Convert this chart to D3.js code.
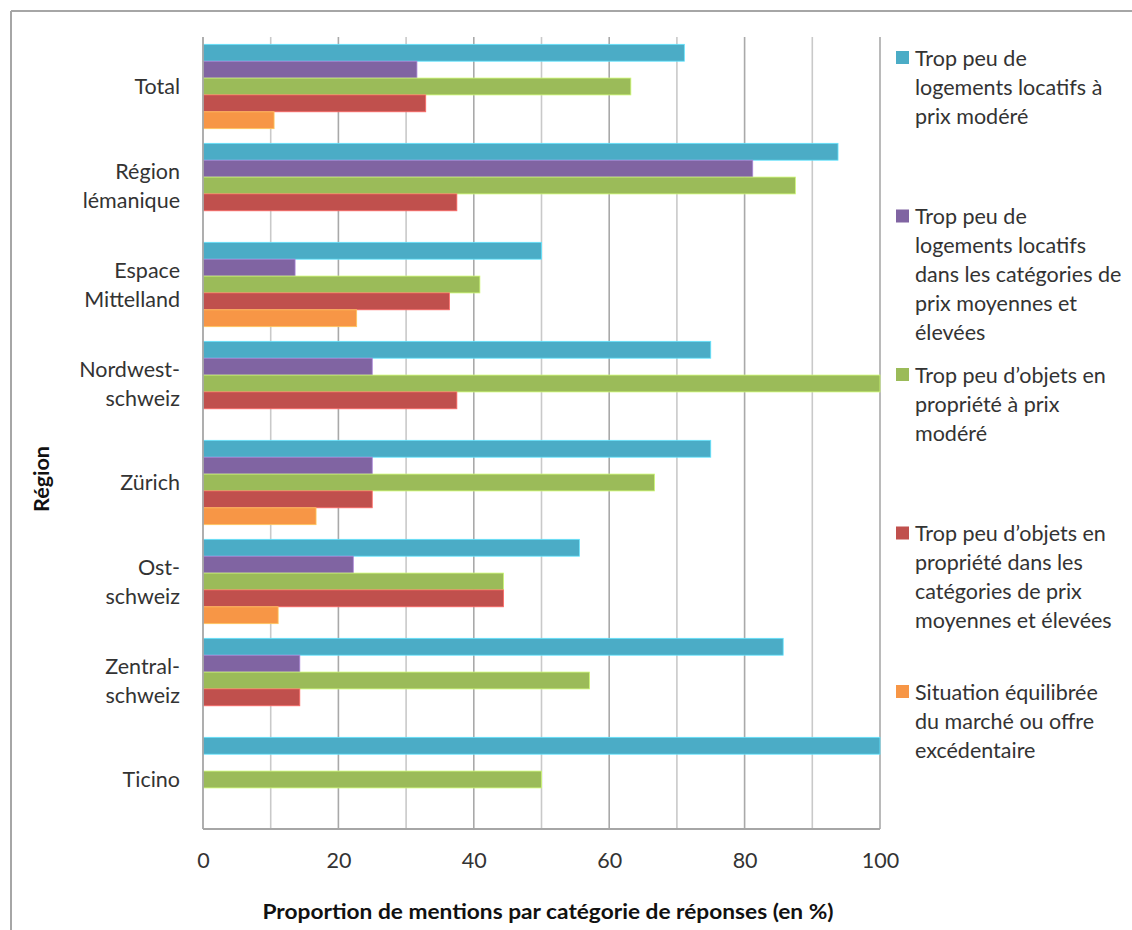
<!DOCTYPE html>
<html>
<head>
<meta charset="utf-8">
<script src="https://cdn.jsdelivr.net/npm/d3@7"></script>
<style>
  html, body { margin: 0; padding: 0; background: #fff; }
  svg { display: block; font-family: Lato, "Open Sans", sans-serif; }
</style>
</head>
<body>
<svg id="chart" width="1132" height="930"></svg>
<script>
// Regions (each label may wrap over several lines)
const regions = [
  ["Total"],
  ["Région", "lémanique"],
  ["Espace", "Mittelland"],
  ["Nordwest-", "schweiz"],
  ["Zürich"],
  ["Ost-", "schweiz"],
  ["Zentral-", "schweiz"],
  ["Ticino"]
];

// Response categories, as shown in the legend
const seriesNames = [
  ["Trop peu de", "logements locatifs à", "prix modéré"],
  ["Trop peu de", "logements locatifs", "dans les catégories de", "prix moyennes et", "élevées"],
  ["Trop peu d’objets en", "propriété à prix", "modéré"],
  ["Trop peu d’objets en", "propriété dans les", "catégories de prix", "moyennes et élevées"],
  ["Situation équilibrée", "du marché ou offre", "excédentaire"]
];
const seriesColors = ["#4BACC6", "#8064A2", "#9BBB59", "#C0504D", "#F79646"];

// Share of mentions (%) per region, one array per response category
const rentModerate   = [71.1, 93.8, 50.0, 75.0, 75.0, 55.6, 85.7, 100.0];
const rentMidHigh    = [31.6, 81.2, 13.6, 25.0, 25.0, 22.2, 14.3, 0];
const ownModerate    = [63.2, 87.5, 40.9, 100.0, 66.7, 44.4, 57.1, 50.0];
const ownMidHigh     = [32.9, 37.5, 36.4, 37.5, 25.0, 44.4, 14.3, 0];
const balancedMarket = [10.5, 0, 22.7, 0, 16.7, 11.1, 0, 0];
const seriesValues = [rentModerate, rentMidHigh, ownModerate, ownMidHigh, balancedMarket];

const xTickValues = [0, 20, 40, 60, 80, 100];
const xTitle = "Proportion de mentions par catégorie de réponses (en %)";
const yTitle = "Région";

const svg = d3.select("#chart");

// Chart frame
svg.append("line").attr("x1", 11).attr("y1", 11).attr("x2", 1132).attr("y2", 11)
  .attr("stroke", "#a6a6a6").attr("stroke-width", 2);
svg.append("line").attr("x1", 11).attr("y1", 11).attr("x2", 11).attr("y2", 930)
  .attr("stroke", "#a6a6a6").attr("stroke-width", 2);

const plot = { left: 203, right: 880, top: 37, bottom: 829 };

const x = d3.scaleLinear().domain([0, 100]).range([plot.left, plot.right]);
const y0 = d3.scaleBand()
  .domain(d3.range(regions.length))
  .range([plot.top, plot.bottom])
  .paddingInner(0.148)
  .paddingOuter(0.074);
const y1 = d3.scaleBand()
  .domain(d3.range(seriesValues.length))
  .range([0, y0.bandwidth()]);

// Vertical gridlines: every 10 (minor) and every 20 (major)
const gridG = svg.append("g");
gridG.selectAll("line")
  .data(d3.range(10, 101, 10))
  .join("line")
  .attr("x1", d => x(d)).attr("x2", d => x(d))
  .attr("y1", plot.top).attr("y2", plot.bottom)
  .attr("stroke", d => d % 20 === 0 ? "#a9a9a9" : "#c9c9c9")
  .attr("stroke-width", 1.6);

// Bars
const groups = svg.append("g").selectAll("g")
  .data(regions.map((r, i) => i))
  .join("g")
  .attr("transform", i => `translate(0,${y0(i)})`);

groups.selectAll("rect")
  .data(i => seriesValues.map((vals, s) => ({ s, v: vals[i] })).filter(d => d.v > 0))
  .join("rect")
  .attr("x", x(0))
  .attr("y", d => y1(d.s))
  .attr("width", d => x(d.v) - x(0))
  .attr("height", y1.bandwidth())
  .attr("fill", d => seriesColors[d.s])
  .attr("stroke", d => d3.color(seriesColors[d.s]).brighter(0.8))
  .attr("stroke-width", 0.8);

// Axes lines
svg.append("line").attr("x1", plot.left).attr("x2", plot.left)
  .attr("y1", plot.top).attr("y2", plot.bottom)
  .attr("stroke", "#a6a6a6").attr("stroke-width", 1.8);
svg.append("line").attr("x1", plot.left).attr("x2", plot.right)
  .attr("y1", plot.bottom).attr("y2", plot.bottom)
  .attr("stroke", "#a6a6a6").attr("stroke-width", 1.8);

// X axis tick labels
const xAxis = d3.axisBottom(x).tickValues(xTickValues).tickSize(0).tickPadding(24);
const xg = svg.append("g").attr("transform", `translate(0,${plot.bottom})`).call(xAxis);
xg.select(".domain").remove();
xg.selectAll("text")
  .attr("font-family", "Lato, sans-serif")
  .attr("font-size", 21.5)
  .attr("fill", "#333");

// Region labels
const lineH = 29;
const catG = svg.append("g");
regions.forEach((lines, i) => {
  const cy = y0(i) + y0.bandwidth() / 2;
  const t = catG.append("text")
    .attr("text-anchor", "end")
    .attr("font-size", 21.5)
    .attr("fill", "#333");
  lines.forEach((ln, k) => {
    t.append("tspan")
      .attr("x", 180)
      .attr("y", cy + (k - (lines.length - 1) / 2) * lineH)
      .attr("dy", "0.35em")
      .text(ln);
  });
});

// Axis titles
svg.append("text")
  .attr("x", 548)
  .attr("y", 912)
  .attr("dy", "0.35em")
  .attr("text-anchor", "middle")
  .attr("font-size", 20)
  .attr("font-weight", "bold")
  .attr("fill", "#111")
  .attr("textLength", 571)
  .attr("lengthAdjust", "spacingAndGlyphs")
  .text(xTitle);

svg.append("text")
  .attr("transform", "translate(42,479) rotate(-90)")
  .attr("dy", "0.35em")
  .attr("text-anchor", "middle")
  .attr("font-size", 20)
  .attr("font-weight", "bold")
  .attr("fill", "#111")
  .attr("textLength", 66)
  .attr("lengthAdjust", "spacingAndGlyphs")
  .text(yTitle);

// Legend
const legendY = d3.scalePoint().domain(d3.range(seriesNames.length)).range([58, 692]);
const legend = svg.append("g");
seriesNames.forEach((lines, s) => {
  const yy = legendY(s);
  legend.append("rect")
    .attr("x", 896).attr("y", yy - 7)
    .attr("width", 13).attr("height", 13)
    .attr("fill", seriesColors[s]);
  const t = legend.append("text")
    .attr("font-size", 21.5)
    .attr("fill", "#333");
  lines.forEach((ln, k) => {
    t.append("tspan")
      .attr("x", 915)
      .attr("y", yy + k * lineH)
      .attr("dy", "0.35em")
      .text(ln);
  });
});
</script>
</body>
</html>
